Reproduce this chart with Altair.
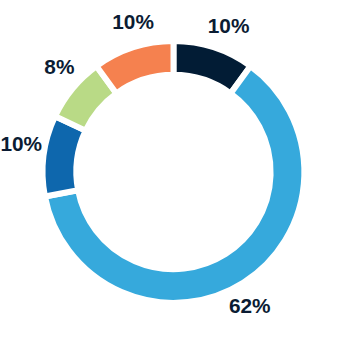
import altair as alt
import pandas as pd

categories = ["A", "B", "C", "D", "E"]
values = [10, 62, 10, 8, 10]
labels = ["10%", "62%", "10%", "8%", "10%"]
colors = ["#021C35", "#36A9DC", "#0E67AD", "#B9DA86", "#F5814F"]
order = [0, 1, 2, 3, 4]

df = pd.DataFrame({"cat": categories, "value": values, "label": labels, "ord": order})

base = alt.Chart(df).encode(
    theta=alt.Theta("value:Q", stack=True),
    order=alt.Order("ord:Q"),
)

arcs = base.mark_arc(outerRadius=132, innerRadius=98, stroke="white", strokeWidth=6).encode(
    color=alt.Color("cat:N", scale=alt.Scale(domain=categories, range=colors), legend=None)
)

text = base.mark_text(radius=156, thetaOffset=0.05, font="Liberation Sans", fontWeight="bold",
                      fontSize=21, color="#0B1C33", align="center", baseline="middle").encode(
    text="label:N"
)

chart = (arcs + text).properties(width=344, height=344, padding=0).configure_view(stroke=None)
chart.save("out.html", embed_options={"renderer": "svg", "actions": False})
